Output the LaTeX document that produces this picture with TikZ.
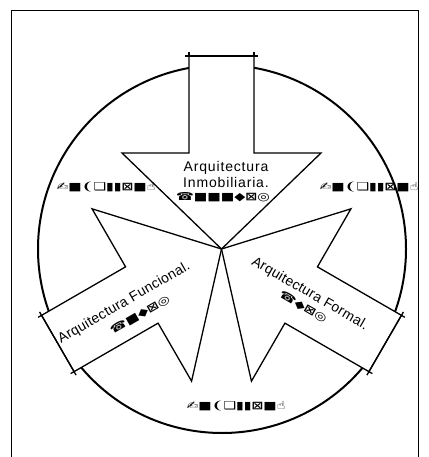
\documentclass[tikz,border=0pt]{standalone}
\usepackage{fontspec}
\newfontfamily\arqfont[LetterSpace=6]{Liberation Sans}
\newfontfamily\arqlfont[LetterSpace=2]{Liberation Sans}
\newfontfamily\symfont{DejaVu Sans Bold}

\begin{document}
\begin{tikzpicture}[x=1pt, y=-1pt,
    every node/.style={inner sep=0pt},
    arq/.style={font=\arqfont\fontsize{14}{16}\selectfont, align=center},
    arqlado/.style={font=\arqlfont\fontsize{14}{16}\selectfont},
    sym/.style={font=\symfont\fontsize{11}{12}\selectfont},
    flecha/.style={draw, line width=1.3pt, fill=white, line join=miter},
    marca/.style={line width=1.3pt}]
  \useasboundingbox (0,0) rectangle (428,457);
  % marco
  \draw[line width=1pt] (11,460) -- (11,11) -- (418,11) -- (418,460);
  \coordinate (O) at (221.5,249);
  \draw[line width=2pt] (222,249) circle[radius=184pt];
  % flechas
  \foreach \ang/\dy in {0/0, 120/4, -120/4} {
    \begin{scope}[yshift=-\dy pt, rotate around={\ang:(O)}]
      \draw[flecha] (O) -- (122,153) -- (189,153) -- (189,56) -- (254,56) -- (254,153) -- (321,153) -- cycle;
      \draw[marca] (185,56) -- (258,56) (189,52) -- (189,56) (254,52) -- (254,56);
    \end{scope}
  }
  % textos
  \node[arq] (inm) at (226,174) {Arquitectura\\Inmobiliaria.};
  \node[sym] (s0) at (223,197) {\scalebox{1.3}[1]{☎■■■◆⊠◎}};
  \node[sym] (s1) at (106,187) {\scalebox{1.28}[1]{✍■❨❑▮▮⊠■☝}};
  \node[sym] (s2) at (369,187) {\scalebox{1.28}[1]{✍■❨❑▮▮⊠■☝}};
  \node[sym] (s3) at (236,406) {\scalebox{1.28}[1]{✍■❨❑▮▮⊠■☝}};
  \node[arqlado, rotate=30, anchor=base] (fun) at (126,306) {Arquitectura Funcional.};
  \node[sym, rotate=30] (s4) at (140,315) {\scalebox{1.3}[1]{☎■◆⊠◎}};
  \node[arqlado, rotate=-30, anchor=base] (for) at (308,297) {Arquitectura Formal.};
  \node[sym, rotate=-30] (s5) at (303,307) {\scalebox{1.3}[1]{☎◆⊠◎}};
\end{tikzpicture}
\end{document}
